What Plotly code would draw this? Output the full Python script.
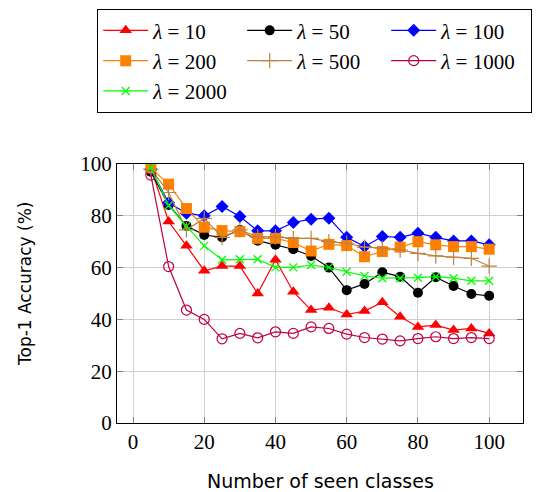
import plotly.graph_objects as go

classes = [5, 10, 15, 20, 25, 30, 35, 40, 45, 50, 55, 60, 65, 70, 75, 80, 85, 90, 95, 100]

acc_10 = [98.5, 77.8, 68.4, 58.8, 60.6, 60.6, 50.0, 63.0, 50.7, 43.6, 44.5, 41.9, 43.2, 46.6, 41.0, 37.1, 37.8, 35.9, 36.5, 34.6]
acc_50 = [97.0, 84.2, 76.1, 72.6, 71.7, 74.5, 70.4, 68.8, 67.1, 64.5, 60.0, 51.3, 53.7, 58.2, 56.5, 50.3, 56.3, 52.9, 49.8, 49.1]
acc_100 = [98.0, 85.0, 81.0, 80.0, 83.6, 79.7, 74.2, 74.2, 77.4, 78.7, 79.1, 71.7, 68.1, 72.0, 71.7, 73.3, 71.7, 70.3, 70.3, 68.8]
acc_200 = [98.5, 92.2, 82.8, 75.6, 74.3, 73.9, 71.3, 71.3, 69.7, 66.4, 69.0, 68.5, 64.2, 66.2, 67.9, 70.0, 68.8, 68.1, 68.1, 67.1]
acc_500 = [98.0, 89.0, 74.6, 79.0, 71.7, 74.6, 71.9, 71.9, 71.3, 71.3, 70.0, 69.4, 67.9, 67.5, 66.8, 65.5, 64.5, 64.0, 63.6, 60.6]
acc_1000 = [95.7, 60.4, 43.6, 40.0, 32.5, 34.6, 32.9, 35.2, 34.6, 37.1, 36.5, 34.3, 33.0, 32.4, 31.7, 32.6, 33.3, 32.6, 33.0, 32.6]
acc_2000 = [98.5, 84.0, 76.0, 68.4, 63.0, 63.2, 63.2, 60.1, 60.1, 61.0, 60.1, 58.4, 56.8, 55.9, 55.9, 56.1, 56.5, 55.9, 54.9, 54.9]

labels = ["10", "50", "100", "200", "500", "1000", "2000"]
tick_vals = [0, 20, 40, 60, 80, 100]

series = [
    (acc_10, "#ff0000", dict(symbol="triangle-up", size=11, color="#ff0000")),
    (acc_50, "#000000", dict(symbol="circle", size=10, color="#000000")),
    (acc_100, "#0000ff", dict(symbol="diamond", size=10, color="#0000ff")),
    (acc_200, "#ff8000", dict(symbol="square", size=11, color="#ff8000")),
    (acc_500, "#bf8040", dict(symbol="cross-thin", size=11, color="#bf8040", line=dict(color="#bf8040", width=1.2))),
    (acc_1000, "#bf0040", dict(symbol="circle-open", size=10, color="#bf0040", line=dict(color="#bf0040", width=1.2))),
    (acc_2000, "#00ff00", dict(symbol="x-thin", size=8, color="#00ff00", line=dict(color="#00ff00", width=1.3))),
]

fig = go.Figure()
for (vals, col, mk), lab in zip(series, labels):
    fig.add_trace(go.Scatter(
        x=classes, y=vals, mode="lines+markers",
        name="<i>λ</i> = " + lab,
        line=dict(color=col, width=1.2),
        marker=mk,
    ))

serif = "Times New Roman"
sans = "DejaVu Sans"
axis_common = dict(
    showline=True, linecolor="#000000", linewidth=1.2, mirror="ticks",
    ticks="inside", ticklen=6, tickcolor="#808080", tickwidth=1,
    showgrid=True, gridcolor="#d0d0d0", gridwidth=1,
    zeroline=False, automargin=False,
    tickfont=dict(family=serif, size=21, color="#000000"),
)

fig.update_layout(
    width=539, height=492,
    margin=dict(l=117, r=16, t=164, b=69, autoexpand=False),
    paper_bgcolor="#ffffff", plot_bgcolor="#ffffff",
    font=dict(family=serif, size=21, color="#000000"),
    showlegend=True,
    legend=dict(
        orientation="h", x=(97 - 117) / 406, y=(423 - 9) / 259, xref="paper", yref="paper",
        xanchor="left", yanchor="top",
        bordercolor="#000000", borderwidth=1.2, bgcolor="#ffffff",
        font=dict(family=serif, size=21, color="#000000"),
        entrywidth=84, entrywidthmode="pixels",
        itemwidth=45,
    ),
    xaxis=dict(range=[-4.5, 109.5], tickvals=tick_vals, **axis_common),
    yaxis=dict(range=[0, 100], tickvals=tick_vals, **axis_common),
    annotations=[
        dict(text="Number of seen classes", x=0.5, y=(423 - 481) / 259, xref="paper", yref="paper",
             xanchor="center", yanchor="middle", showarrow=False,
             font=dict(family=sans, size=19, color="#000000")),
        dict(text="Top-1 Accuracy (%)", x=(25 - 117) / 406, y=(423 - 284) / 259, xref="paper", yref="paper",
             textangle=-90, showarrow=False, xanchor="center", yanchor="middle",
             font=dict(family=sans, size=17, color="#000000")),
    ],
)

fig.write_html("out.html", config={"displayModeBar": False},
               post_script="document.body.style.margin='0';")
